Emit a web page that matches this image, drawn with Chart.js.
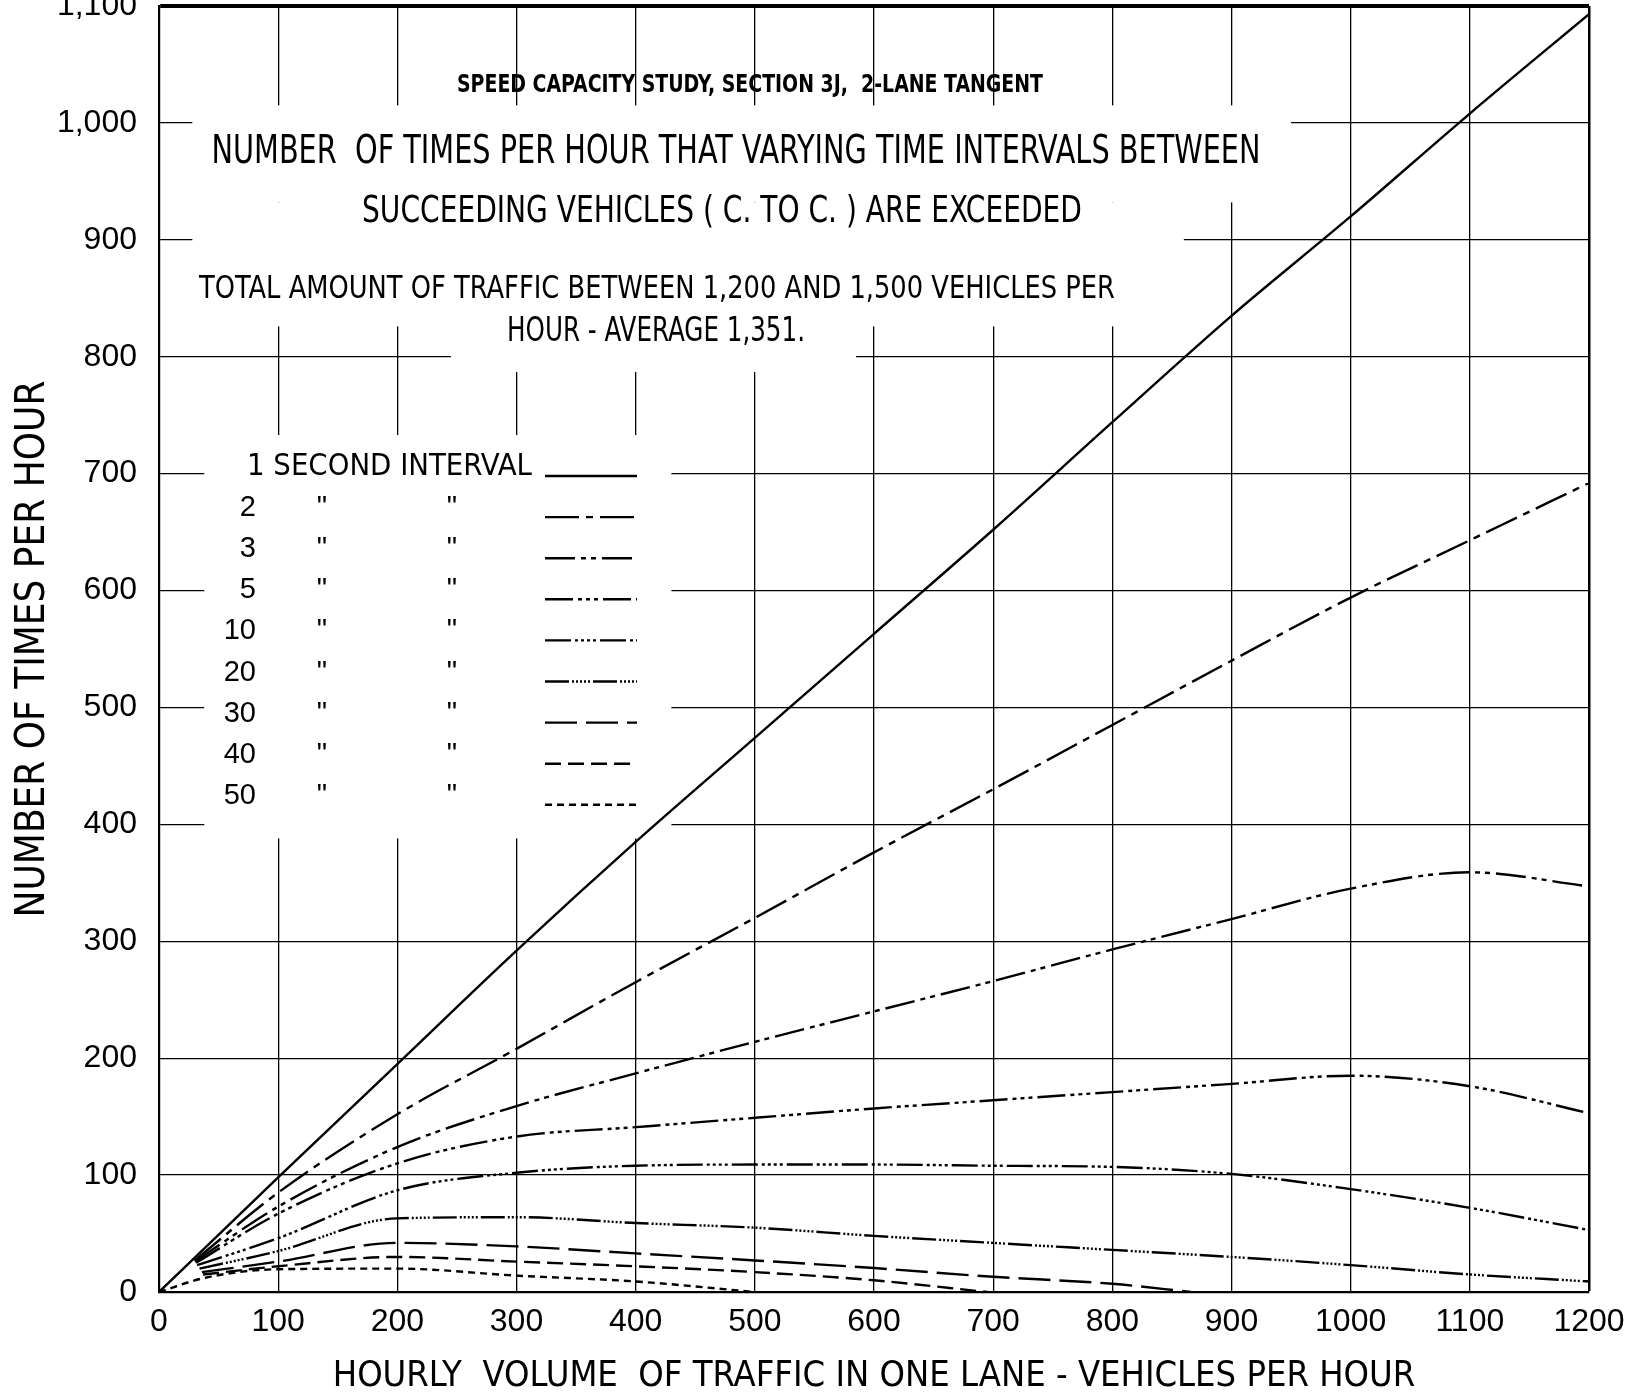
<!DOCTYPE html>
<html>
<head>
<meta charset="utf-8">
<title>Speed capacity study, section 3J</title>
<script src="https://cdn.jsdelivr.net/npm/chart.js@4.4.1/dist/chart.umd.min.js"></script>
<style>
  html, body { margin: 0; padding: 0; background: #fff; }
  #wrap { width: 1636px; height: 1395px; }
</style>
</head>
<body>
<div id="wrap"><canvas id="chart" width="1636" height="1395"></canvas></div>
<script>
// hourly volume at each grid line (vehicles per hour, one lane)
const volumes = [100, 200, 300, 400, 500, 600, 700, 800, 900, 1000, 1100, 1200];
const intervals = [1, 2, 3, 5, 10, 20, 30, 40, 50];

// number of times per hour each gap is exceeded, read at every volume above
// null where the curve has already run into the axis
const sec1 = [98, 195, 292, 385, 474, 563, 652, 744, 835, 920, 1008, 1093];
const sec2 = [85, 152, 208, 265, 320, 376, 430, 485, 540, 594, 643, 692];
const sec3 = [73, 124, 159, 187, 214, 240, 266, 293, 319, 345, 359, 347];
const sec5 = [67, 110, 133, 141, 149, 157, 164, 171, 178, 185, 176, 153];
const sec10 = [46, 87, 102, 108, 109, 109, 108, 107, 101, 88, 72, 53];
const sec20 = [35, 63, 64, 59, 55, 48, 42, 36, 30, 23, 15, 9];
const sec30 = [26, 42, 39, 33, 27, 20.5, 13, 7, null, null, null, null];
const sec40 = [22, 30, 26, 22, 17, 10, null, null, null, null, null, null];
const sec50 = [19.5, 20, 14, 9, null, null, null, null, null, null, null, null];

// where each curve begins near the origin, and where the short ones meet the axis
const curveStarts = [
  [[0, 0]], [[30, 27]], [[30, 26]], [[31, 25]], [[32, 23]],
  [[34, 20]], [[36, 17]], [[37, 15]], [[0, 0], [38, 12]]
];
const curveEnds = [null, null, null, null, null, null, [866, 0], [695, 0], [500, 0]];

const xTickLabels = ['0', '100', '200', '300', '400', '500', '600', '700', '800', '900', '1000', '1100', '1200'];
const yTickLabels = ['0', '100', '200', '300', '400', '500', '600', '700', '800', '900', '1,000', '1,100'];

const seriesValues = [sec1, sec2, sec3, sec5, sec10, sec20, sec30, sec40, sec50];

const dashes = [
  [],
  [34, 7, 7, 7],
  [30, 6, 5, 5, 5, 6],
  [28, 5, 4, 4, 4, 4, 4, 5],
  [26, 4, 3, 3, 3, 3, 3, 3, 3, 4],
  [24, 3, 2, 2, 2, 2, 2, 2, 2, 2, 2, 3],
  [32, 9],
  [16, 7],
  [7, 5]
];

const WORD_FONT = '"Liberation Sans Narrow", "DejaVu Sans Condensed", "Liberation Sans", sans-serif';
const NUM_FONT = '"Liberation Sans", Arial, sans-serif';

function buildPoints(i) {
  const pts = curveStarts[i].map(([x, y]) => ({ x, y }));
  volumes.forEach((v, k) => {
    const y = seriesValues[i][k];
    if (y !== null) pts.push({ x: v, y });
  });
  if (curveEnds[i]) pts.push({ x: curveEnds[i][0], y: curveEnds[i][1] });
  return pts;
}

const datasets = intervals.map((n, i) => ({
  label: n + ' SECOND INTERVAL',
  data: buildPoints(i),
  borderColor: '#000',
  borderWidth: 2.4,
  borderDash: dashes[i],
  pointRadius: 0,
  fill: false,
  cubicInterpolationMode: 'monotone'
}));

// text, drawn straight onto the canvas
function drawFitted(ctx, text, x, y, width, font, align) {
  ctx.save();
  ctx.font = font;
  ctx.textAlign = align || 'center';
  ctx.textBaseline = 'alphabetic';
  const w = ctx.measureText(text).width;
  ctx.translate(x, y);
  ctx.scale(width / w, 1);
  ctx.fillText(text, 0, 0);
  ctx.restore();
}

const lettering = {
  id: 'lettering',
  beforeDatasetsDraw(chart) {
    const { ctx, scales: { x, y } } = chart;
    // the draughtsman left the grid out behind the headings and the key
    const blank = [[28, 950, 932, 1015], [28, 860, 826, 932], [245, 585, 787, 826], [38, 430, 388, 733]];
    ctx.save();
    ctx.fillStyle = '#fff';
    blank.forEach(([x0, x1, y0, y1]) => {
      const px0 = x.getPixelForValue(x0), px1 = x.getPixelForValue(x1);
      const py0 = y.getPixelForValue(y1), py1 = y.getPixelForValue(y0);
      ctx.fillRect(px0, py0, px1 - px0, py1 - py0);
    });
    ctx.restore();

    ctx.fillStyle = '#000';
    drawFitted(ctx, 'SPEED CAPACITY STUDY, SECTION 3J,  2-LANE TANGENT', 750, 92, 586, 'bold 24px ' + WORD_FONT);
    drawFitted(ctx, 'NUMBER  OF TIMES PER HOUR THAT VARYING TIME INTERVALS BETWEEN', 736, 163, 1049, '39px ' + WORD_FONT);
    drawFitted(ctx, 'SUCCEEDING VEHICLES ( C. TO C. ) ARE EXCEEDED', 722, 222, 720, '38px ' + WORD_FONT);
    drawFitted(ctx, 'TOTAL AMOUNT OF TRAFFIC BETWEEN 1,200 AND 1,500 VEHICLES PER', 657, 298, 916, '32px ' + WORD_FONT);
    drawFitted(ctx, 'HOUR - AVERAGE 1,351.', 656, 341, 298, '33px ' + WORD_FONT);

    // key
    const rowTop = 475, rowStep = 41.1;
    chart.data.datasets.forEach((ds, i) => {
      const base = rowTop + i * rowStep;
      ctx.save();
      ctx.fillStyle = '#000';
      if (i === 0) {
        drawFitted(ctx, '1 SECOND INTERVAL', 247, base, 285, '30px ' + WORD_FONT, 'left');
      } else {
        ctx.font = '29px ' + NUM_FONT;
        ctx.textAlign = 'right';
        ctx.fillText(String(intervals[i]), 256, base);
        ctx.textAlign = 'center';
        ctx.fillText('"', 322, base);
        ctx.fillText('"', 452, base);
      }
      ctx.strokeStyle = ds.borderColor;
      ctx.lineWidth = ds.borderWidth;
      ctx.setLineDash(ds.borderDash);
      ctx.beginPath();
      ctx.moveTo(545, base + 1);
      ctx.lineTo(637, base + 1);
      ctx.stroke();
      ctx.restore();
    });
  }
};

new Chart(document.getElementById('chart'), {
  type: 'line',
  data: { datasets },
  options: {
    responsive: false,
    animation: false,
    layout: { padding: { top: 6, right: 47, left: 0, bottom: 0 } },
    plugins: {
      legend: { display: false },
      tooltip: { enabled: false }
    },
    scales: {
      x: {
        type: 'linear',
        min: 0,
        max: 1200,
        ticks: {
          stepSize: 100,
          autoSkip: false,
          maxRotation: 0,
          padding: 11,
          color: '#000',
          font: { family: NUM_FONT, size: 32 },
          callback: (v, i) => xTickLabels[i]
        },
        grid: {
          color: '#000',
          drawTicks: false,
          lineWidth: (c) => (c.tick && c.tick.value === 1200 ? 2.5 : 1.3)
        },
        border: { color: '#000', width: 2.2 },
        title: {
          display: true,
          text: 'HOURLY  VOLUME  OF TRAFFIC IN ONE LANE - VEHICLES PER HOUR',
          color: '#000',
          font: { family: WORD_FONT, size: 36, lineHeight: 1 },
          padding: { top: 0, bottom: 0 }
        },
        afterFit: (s) => { s.height = 103; s.paddingLeft = 0; s.paddingRight = 0; }
      },
      y: {
        min: 0,
        max: 1100,
        ticks: {
          stepSize: 100,
          autoSkip: false,
          padding: 22,
          color: '#000',
          font: { family: NUM_FONT, size: 32 },
          callback: (v, i) => yTickLabels[i]
        },
        grid: {
          color: '#000',
          drawTicks: false,
          lineWidth: (c) => (c.tick && c.tick.value === 1100 ? 4 : 1.3)
        },
        border: { color: '#000', width: 2.2 },
        title: {
          display: true,
          text: 'NUMBER OF TIMES PER HOUR',
          color: '#000',
          font: { family: WORD_FONT, size: 40, lineHeight: 1 },
          padding: { top: 14, bottom: 0 }
        },
        afterFit: (s) => { s.width = 159; s.paddingTop = 0; s.paddingBottom = 0; }
      }
    }
  },
  plugins: [lettering]
});
</script>
</body>
</html>
